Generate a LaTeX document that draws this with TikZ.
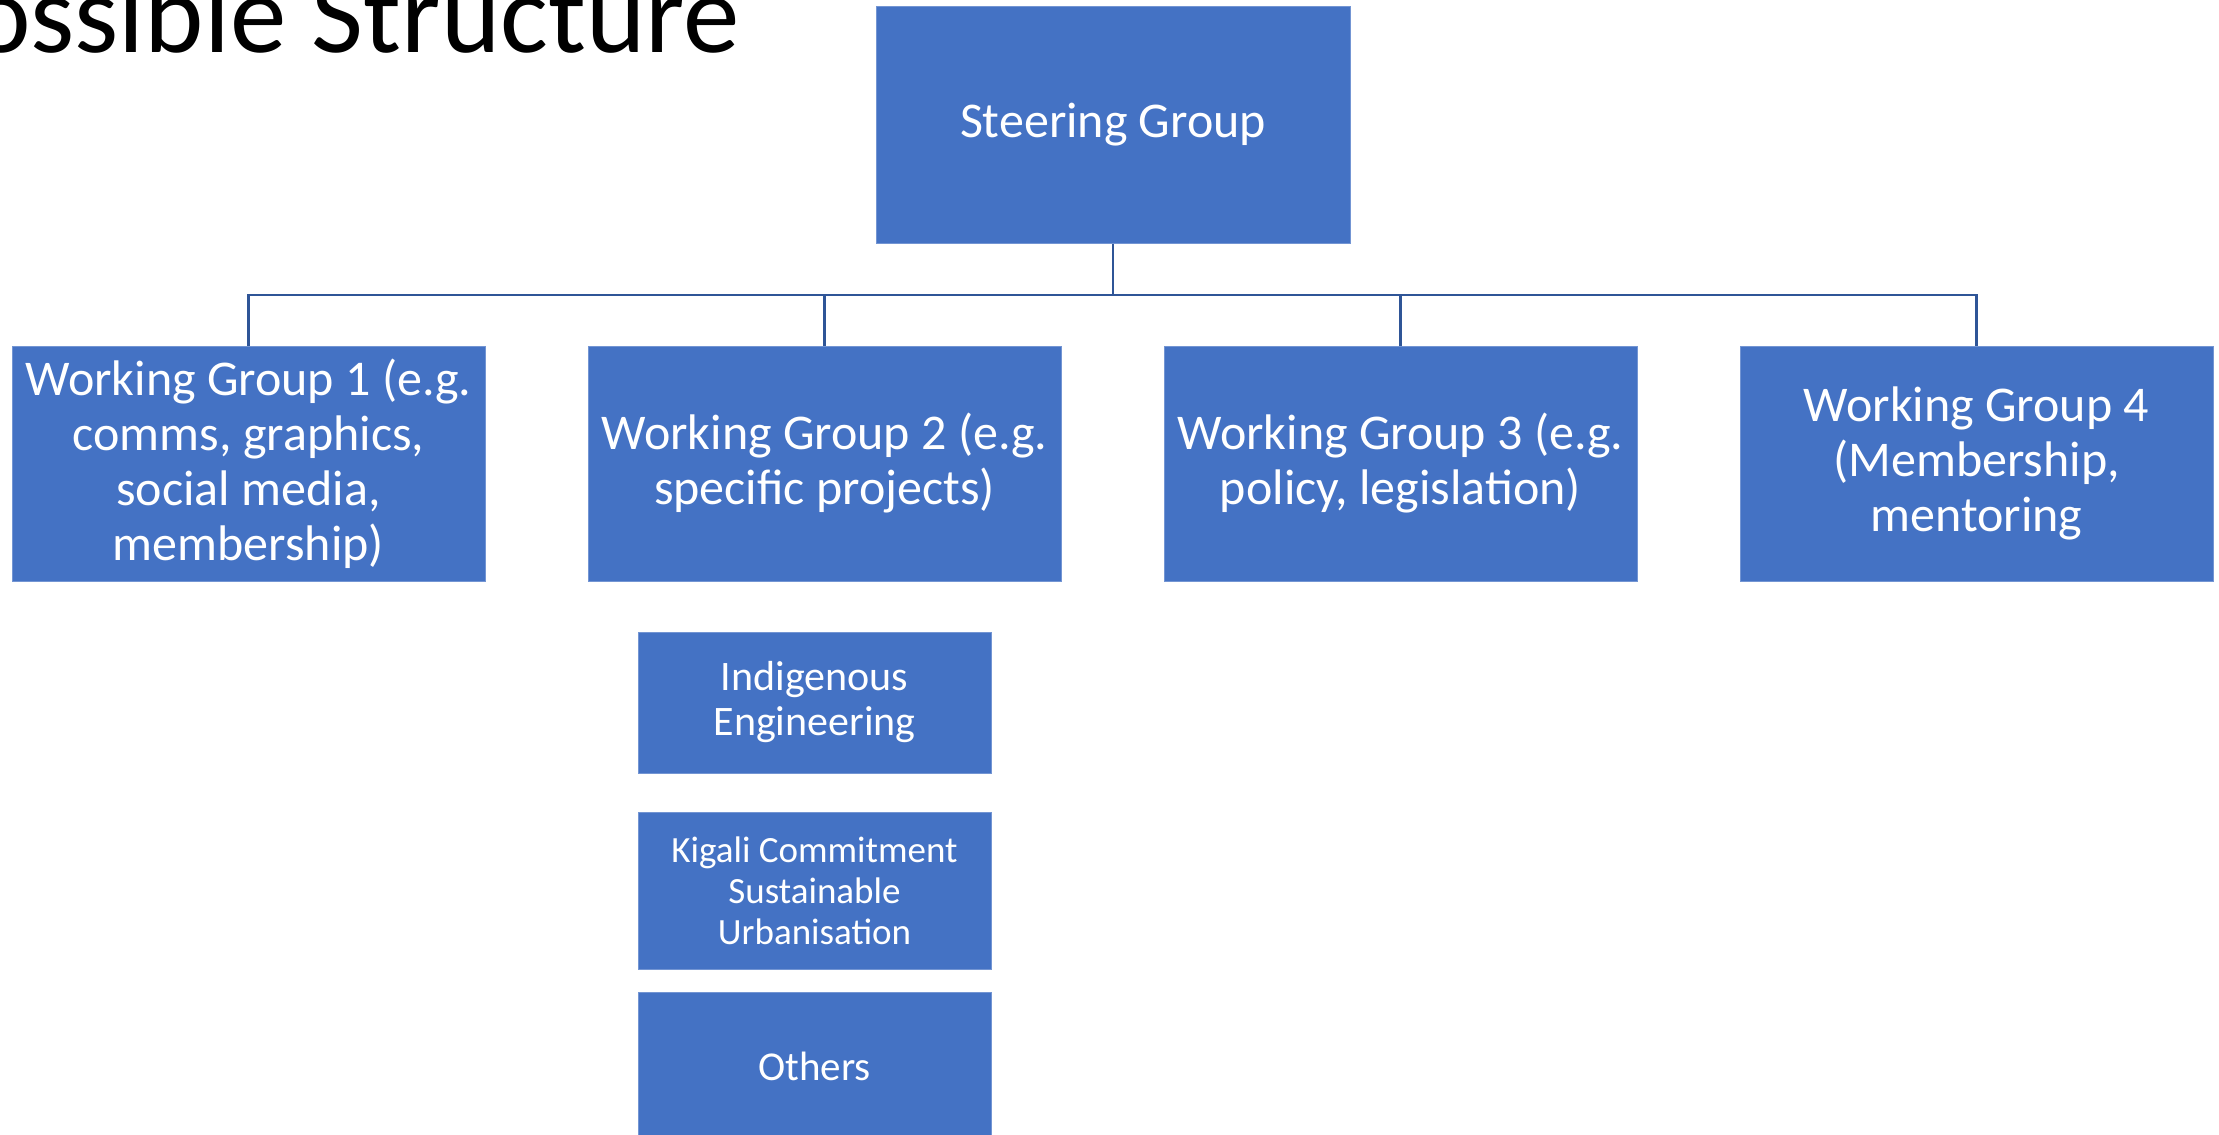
\documentclass[tikz,border=0pt]{standalone}
\usepackage{fontspec}
\setmainfont{Carlito}
\definecolor{boxblue}{HTML}{4472C4}
\definecolor{linkblue}{HTML}{2F5597}

\begin{document}
\begin{tikzpicture}[x=0.5pt,y=-0.5pt,
    groupbox/.style={fill=boxblue, draw=boxblue!75!white, line width=0.5pt,
      text=white, align=center, inner sep=0pt},
    bigbox/.style={groupbox, minimum width=236.5pt, minimum height=117.5pt,
      font=\fontsize{25}{27.5}\selectfont},
    smallbox/.style={groupbox, minimum width=176.5pt},
    link/.style={draw=linkblue, line width=1.2pt}]
  \useasboundingbox (0,0) rectangle (2219,1134);
  \node[anchor=base west, font=\fontsize{56.5}{60}\selectfont] (title) at (-36,53) {ossible Structure};
  \draw
    (1113,125) node[bigbox, minimum width=237pt, minimum height=118pt] (steeringgroup){Steering Group}
    (248.5,463.5) node[bigbox] (workinggroup1){Working Group 1 (e.g.\\comms, graphics,\\social media,\\membership)}
    (824.5,463.5) node[bigbox] (workinggroup2){Working Group 2 (e.g.\\specific projects)}
    (1400.5,463.5) node[bigbox] (workinggroup3){Working Group 3 (e.g.\\policy, legislation)}
    (1976.5,463.5) node[bigbox] (workinggroup4){Working Group 4\\(Membership,\\mentoring}
    (814.5,702.5) node[smallbox, minimum height=70.5pt, font=\fontsize{21}{22.5}\selectfont] (indigenousengineering){Indigenous\\Engineering}
    (814.5,890.5) node[smallbox, minimum height=78.5pt, font=\fontsize{18.5}{20.5}\selectfont] (kigalicommitment){Kigali Commitment\\Sustainable\\Urbanisation}
    (814.5,1066) node[smallbox, minimum height=74pt, font=\fontsize{20.5}{22}\selectfont] (others){Others};
  \coordinate (bus) at (1113,295);
  \begin{scope}[link]
    \draw (steeringgroup) -- (bus);
    \draw (bus) -| (workinggroup1);
    \draw (bus) -| (workinggroup2);
    \draw (bus) -| (workinggroup3);
    \draw (bus) -| (workinggroup4);
  \end{scope}
\end{tikzpicture}
\end{document}
